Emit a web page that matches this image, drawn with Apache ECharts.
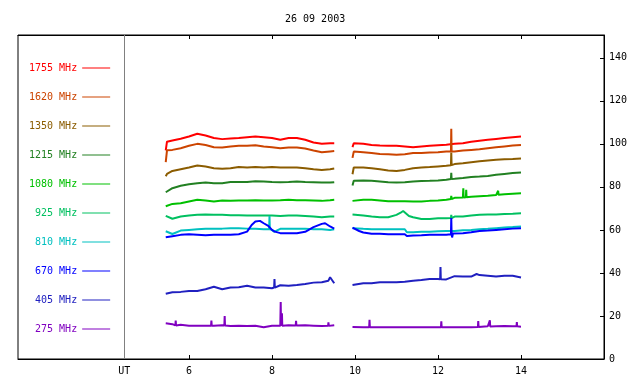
<!DOCTYPE html>
<html><head><meta charset="utf-8">
<script src="https://cdn.jsdelivr.net/npm/echarts@6/dist/echarts.min.js"></script>
<style>html,body{margin:0;padding:0;background:#fff}#c{width:640px;height:384px}</style>
</head><body><div id="c"></div>
<script>
const chartTitle = '26 09 2003';
const names = ['1755 MHz','1620 MHz','1350 MHz','1215 MHz','1080 MHz','925 MHz','810 MHz','670 MHz','405 MHz','275 MHz'];
const colors = ['#ff0000','#cc4400','#8b5c00','#228022','#00c000','#00c060','#00c0c0','#0000ff','#2020c0','#8000c0'];
const xTicks = [6, 8, 10, 12, 14];
const utPos = 4.44;
const yTicks = [0, 20, 40, 60, 80, 100, 120, 140];
const gapAt = 9.7;

const tLeft  = [5.44, 5.47, 5.6, 5.8, 6.0, 6.2, 6.4, 6.6, 6.8, 7.0, 7.2, 7.4, 7.6, 7.8, 8.0, 8.2, 8.4, 8.6, 8.8, 9.0, 9.2, 9.4, 9.5];
const tRight = [9.94, 9.97, 10.2, 10.4, 10.6, 10.8, 11.0, 11.2, 11.4, 11.6, 11.8, 12.0, 12.2, 12.4, 12.6, 12.8, 13.0, 13.2, 13.4, 13.6, 13.8, 14.0];

const f1755L = [97.0, 101.0, 101.6, 102.4, 103.4, 104.7, 103.9, 102.7, 102.2, 102.5, 102.7, 103.1, 103.4, 103.1, 102.7, 101.9, 102.7, 102.7, 101.9, 100.6, 100.0, 100.3, 100.3];
const f1755R = [98.5, 100.3, 100.0, 99.5, 99.2, 99.1, 99.1, 98.8, 98.4, 98.8, 99.1, 99.4, 99.6, 100.0, 100.3, 101.0, 101.5, 101.9, 102.3, 102.7, 103.1, 103.4];
const p1755 = [];
const s1755 = [];

const f1620L = [91.5, 97.0, 97.2, 98.0, 99.1, 100.0, 99.5, 98.4, 98.3, 98.8, 99.1, 99.1, 99.4, 98.8, 98.4, 98.0, 98.3, 98.3, 97.8, 96.9, 96.1, 96.5, 96.7];
const f1620R = [93.5, 96.4, 96.1, 95.7, 95.3, 95.2, 94.9, 95.2, 95.7, 95.7, 96.0, 96.1, 96.4, 96.4, 96.9, 97.2, 97.5, 98.0, 98.4, 98.8, 99.2, 99.5];
const p1620 = [];
const s1620 = [[12.32, 107.0, 96.4]];

const f1350L = [85.0, 86.0, 87.4, 88.2, 89.0, 89.9, 89.5, 88.7, 88.4, 88.7, 89.2, 89.0, 89.2, 89.0, 89.2, 89.0, 89.0, 89.0, 88.7, 88.2, 87.9, 88.2, 88.5];
const f1350R = [85.9, 89.0, 89.0, 88.7, 88.2, 87.6, 87.4, 87.9, 88.7, 89.0, 89.2, 89.5, 89.8, 90.6, 91.0, 91.5, 91.9, 92.3, 92.6, 92.9, 93.0, 93.2];
const p1350 = [];
const s1350 = [[12.32, 96.0, 90.1]];

const f1215L = [77.5, 78.3, 79.4, 80.5, 81.2, 81.7, 82.0, 81.7, 81.7, 82.3, 82.3, 82.3, 82.6, 82.5, 82.3, 82.2, 82.3, 82.5, 82.3, 82.2, 82.0, 82.0, 82.2];
const f1215R = [80.6, 82.8, 83.0, 82.8, 82.5, 82.2, 82.0, 82.2, 82.5, 82.7, 82.8, 83.0, 83.3, 83.8, 84.1, 84.6, 84.8, 85.1, 85.6, 86.0, 86.4, 86.7];
const p1215 = [];
const s1215 = [[12.32, 86.5, 83.7]];

const f1080L = [71.0, 71.6, 72.1, 72.4, 73.2, 74.0, 73.7, 73.2, 73.7, 73.5, 73.7, 73.7, 73.8, 73.7, 73.7, 73.8, 74.0, 73.8, 73.8, 73.7, 73.5, 73.8, 74.0];
const f1080R = [73.5, 73.5, 74.0, 74.0, 73.7, 73.3, 73.3, 73.3, 73.2, 73.2, 73.5, 73.7, 74.0, 74.9, 75.1, 75.4, 75.7, 75.9, 76.2, 76.6, 76.8, 77.0];
const p1080 = [];
const s1080 = [[12.32, 75.8, 74.4], [12.61, 79.3, 75.1], [12.68, 78.6, 75.2], [13.45, 78.2, 76.3]];

const f925L = [66.5, 66.5, 65.2, 66.2, 66.7, 67.0, 67.2, 67.0, 67.0, 66.8, 66.8, 66.7, 66.7, 66.7, 66.7, 66.5, 66.7, 66.7, 66.5, 66.2, 65.9, 66.2, 66.2];
const f925R = [67.2, 67.2, 66.7, 66.2, 65.9, 65.9, 67.0, 68.5, 65.9, 65.1, 65.1, 65.4, 65.4, 66.2, 66.2, 66.7, 67.0, 67.2, 67.2, 67.4, 67.5, 67.7];
const p925 = [[11.1, 68.0], [11.16, 68.8], [11.3, 66.5]];
const s925 = [[12.32, 67.0, 65.5]];

const f810L = [59.4, 59.4, 58.1, 59.7, 60.0, 60.3, 60.5, 60.6, 60.6, 60.8, 60.8, 60.6, 60.5, 60.3, 60.0, 60.5, 60.5, 60.5, 60.6, 60.3, 60.3, 60.0, 60.3];
const f810R = [60.8, 60.8, 60.5, 60.3, 60.3, 60.3, 60.3, 60.3, 58.9, 59.1, 59.2, 59.4, 59.5, 59.5, 59.9, 60.0, 60.3, 60.5, 60.8, 61.1, 61.3, 61.6];
const p810 = [[8.05, 59.1], [11.25, 58.9]];
const s810 = [[7.94, 66.4, 60.3]];

const f670L = [56.6, 56.6, 57.1, 57.7, 58.0, 57.8, 57.5, 57.8, 57.8, 57.8, 58.0, 59.2, 63.9, 63.1, 60.0, 58.5, 58.5, 58.5, 59.1, 61.3, 62.8, 61.6, 60.6];
const f670R = [61.1, 61.1, 58.8, 58.2, 58.2, 58.0, 58.0, 58.0, 57.4, 57.5, 57.7, 57.7, 57.8, 58.5, 58.5, 58.9, 59.5, 59.7, 60.0, 60.3, 60.6, 60.8];
const p670 = [[7.51, 62.3], [7.71, 64.2], [7.91, 61.9], [8.07, 59.2], [9.28, 63.1], [10.1, 59.5], [11.25, 57.2], [12.34, 56.5], [12.36, 58.3]];
const s670 = [[12.32, 65.5, 58.0]];

const f405L = [30.3, 30.5, 31.0, 31.2, 31.6, 31.6, 32.4, 33.6, 32.4, 33.2, 33.3, 34.0, 33.2, 33.2, 32.9, 34.3, 34.0, 34.4, 34.9, 35.5, 35.7, 38.0, 35.2];
const f405R = [34.4, 34.4, 35.2, 35.2, 35.7, 35.7, 35.7, 35.9, 36.4, 36.7, 37.2, 37.2, 37.0, 38.5, 38.3, 38.3, 39.0, 38.7, 38.3, 38.7, 38.7, 37.9];
const p405 = [[9.36, 36.4], [12.93, 39.5]];
const s405 = [[8.06, 37.2, 33.2], [12.06, 42.8, 37.1]];

const f275L = [16.6, 16.6, 16.2, 15.9, 15.5, 15.5, 15.5, 15.5, 15.7, 15.3, 15.5, 15.3, 15.5, 14.8, 15.5, 15.5, 15.7, 15.5, 15.7, 15.5, 15.3, 15.7, 15.7];
const f275R = [14.9, 14.9, 14.8, 14.8, 14.8, 14.8, 14.8, 14.8, 14.8, 14.8, 14.8, 14.8, 14.8, 14.8, 14.8, 14.8, 15.1, 15.2, 15.2, 15.3, 15.2, 15.0];
const p275 = [];
const s275 = [[5.68, 17.9, 15.6], [6.54, 17.9, 15.5], [6.86, 20.0, 15.6], [8.21, 26.5, 15.5], [8.24, 21.3, 15.5], [8.58, 17.7, 15.6], [9.36, 17.0, 15.4],
              [10.35, 18.2, 14.8], [12.08, 17.5, 14.8], [12.97, 17.6, 14.9], [13.25, 18.0, 15.1], [13.9, 17.2, 15.2]];

const channels = [
  [f1755L, f1755R, p1755, s1755], [f1620L, f1620R, p1620, s1620], [f1350L, f1350R, p1350, s1350],
  [f1215L, f1215R, p1215, s1215], [f1080L, f1080R, p1080, s1080], [f925L, f925R, p925, s925],
  [f810L, f810R, p810, s810], [f670L, f670R, p670, s670], [f405L, f405R, p405, s405], [f275L, f275R, p275, s275]
];

function build(vL, vR, pts, spikes) {
  const all = [];
  tLeft.forEach((t, i) => all.push([t, vL[i]]));
  tRight.forEach((t, i) => all.push([t, vR[i]]));
  pts.forEach(p => all.push([p[0], p[1]]));
  spikes.forEach(s => { all.push([s[0] - 0.008, s[2]]); all.push([s[0], s[1]]); all.push([s[0] + 0.008, s[2]]); });
  all.sort((a, b) => a[0] - b[0]);
  const out = [];
  all.forEach(p => {
    if (out.length && out[out.length - 1][0] < gapAt && p[0] > gapAt) out.push([gapAt, '-']);
    out.push(p);
  });
  return out;
}

const FONT = 'DejaVu Sans Mono';
const series = channels.map((c, i) => ({
  name: names[i], type: 'line', data: build(c[0], c[1], c[2], c[3]),
  showSymbol: false, symbol: 'none', connectNulls: false,
  lineStyle: { color: colors[i], width: 2 }, itemStyle: { color: colors[i] },
  emphasis: { disabled: true }
}));
series[0].markLine = {
  silent: true, symbol: 'none', label: { show: false },
  lineStyle: { color: '#808080', type: 'solid', width: 1 },
  data: [{ xAxis: utPos }]
};

const chart = echarts.init(document.getElementById('c'), null, { renderer: 'canvas' });
chart.setOption({
  animation: false,
  backgroundColor: '#fff',
  title: { text: chartTitle, left: 280, top: 9, textStyle: { fontFamily: FONT, fontSize: 10, fontWeight: 'normal', color: '#000' } },
  legend: {
    orient: 'vertical', left: 24, top: 58, align: 'right', itemGap: 19,
    itemWidth: 28, itemHeight: 1, icon: 'rect', selectedMode: false,
    textStyle: { fontFamily: FONT, fontSize: 10 },
    data: names.map((n, i) => ({ name: n, textStyle: { color: colors[i] }, itemStyle: { color: colors[i] } }))
  },
  grid: { left: 18, right: 36, top: 35, bottom: 25, show: true, borderColor: '#000', borderWidth: 1, containLabel: false },
  xAxis: [
    { type: 'value', min: 1.88, max: 16, position: 'bottom',
      axisLine: { lineStyle: { color: '#000' } },
      axisTick: { customValues: xTicks, inside: true, length: 4, lineStyle: { color: '#000' } },
      axisLabel: { customValues: [utPos].concat(xTicks), formatter: v => (v === utPos ? 'UT' : String(v)), fontFamily: FONT, fontSize: 10, color: '#000', margin: 7 },
      splitLine: { show: false } },
    { type: 'value', min: 1.88, max: 16, position: 'top',
      axisLine: { lineStyle: { color: '#000' } },
      axisTick: { customValues: xTicks, inside: true, length: 4, lineStyle: { color: '#000' } },
      axisLabel: { show: false }, splitLine: { show: false } }
  ],
  yAxis: { type: 'value', min: 0, max: 150.6, position: 'right',
    axisLine: { show: true, lineStyle: { color: '#000' } },
    axisTick: { show: true, customValues: yTicks, inside: true, length: 4, lineStyle: { color: '#000' } },
    axisLabel: { customValues: yTicks, fontFamily: FONT, fontSize: 10, color: '#000', margin: 5 },
    splitLine: { show: false } },
  series: series
});
</script></body></html>
